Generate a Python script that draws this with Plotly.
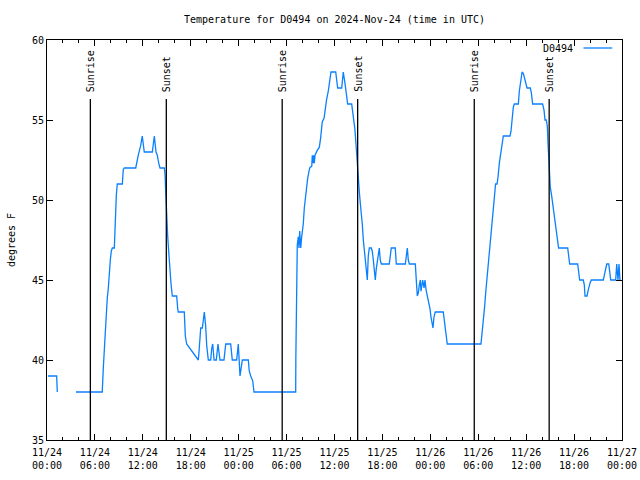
import pandas as pd
import plotly.graph_objects as go

# hours since 2024-11-24 00:00 UTC, temperature in F (None = data gap)
hours = [0.13, 1.21, 1.29, 2.0, 3.63, 6.92, 7.05, 7.17, 7.30, 7.43, 7.55, 7.68, 7.80, 7.93, 8.05, 8.18,
         8.43, 8.48, 8.55, 8.68, 8.80, 9.43, 9.55, 9.68, 11.11, 11.19, 11.31, 11.43, 11.56, 11.73,
         11.93, 12.18, 13.19, 13.31, 13.44, 13.65, 13.81, 13.99, 14.15, 14.69, 14.78, 14.86, 14.96,
         15.11, 15.28, 15.40, 15.53, 15.69, 16.24, 16.37, 16.44, 17.19, 17.32, 17.49, 18.95, 19.03,
         19.16, 19.25, 19.45, 19.70, 19.87, 20.00, 20.20, 20.50, 20.62, 20.75, 20.92, 21.20, 21.41,
         21.66, 22.16, 22.38, 23.00, 23.20, 23.75, 23.95, 24.17, 24.29, 24.46, 25.21, 25.33, 25.51,
         25.76, 25.92, 31.14, 31.16, 31.22, 31.34, 31.47, 31.55, 31.64, 31.77, 31.89, 32.09, 32.22,
         32.39, 32.52, 32.64, 32.81, 32.93, 33.15, 33.22, 33.30, 33.38, 33.47, 33.56, 33.84, 34.10,
         34.27, 34.47, 34.69, 34.81, 35.02, 35.22, 35.35, 35.56, 36.15, 36.27, 36.40, 36.90, 37.10,
         37.31, 37.53, 37.65, 38.15, 38.28, 38.44, 38.56, 38.69, 38.78, 38.94, 38.98, 39.11, 39.23,
         39.36, 39.48, 39.61, 39.73, 39.86, 39.98, 40.11, 40.23, 40.36, 40.61, 40.73, 40.86, 40.98,
         41.11, 41.23, 41.36, 41.48, 41.61, 41.73, 41.86, 42.86, 42.98, 43.11, 43.61, 43.74, 44.87,
         44.99, 45.12, 45.24, 45.37, 46.12, 46.21, 46.29, 46.37, 46.50, 46.62, 46.75, 46.83, 46.96,
         47.04, 47.21, 47.33, 47.46, 47.62, 47.80, 47.96, 48.08, 48.21, 48.33, 48.46, 48.62, 49.62,
         49.75, 49.87, 50.00, 50.12, 54.34, 54.43, 54.56, 54.68, 54.81, 54.93, 55.06, 55.18, 55.31,
         55.43, 55.60, 55.85, 56.05, 56.17, 56.35, 56.47, 56.64, 56.81, 56.98, 57.14, 57.27, 57.98,
         58.10, 58.23, 58.39, 58.52, 59.02, 59.14, 59.31, 59.49, 59.65, 59.77, 59.90, 60.02, 60.11,
         60.52, 60.65, 60.81, 62.06, 62.24, 62.36, 62.52, 62.65, 62.74, 62.81, 62.89, 63.02, 63.18,
         63.31, 63.43, 63.56, 63.68, 63.81, 63.93, 64.06, 65.20, 65.33, 65.45, 66.45, 66.58, 66.70,
         67.15, 67.28, 67.37, 67.62, 67.74, 67.87, 67.99, 68.16, 69.66, 69.79, 69.91, 70.09, 70.34,
         70.46, 70.59, 71.21, 71.34, 71.41, 71.50, 71.62, 71.75]
temps = [39, 39, 38, None, 38, 38, 39.5, 40.7, 42.3, 43.3, 43.9, 44.5, 45.5, 46.25, 46.8, 47,
         47, 47.7, 49.2, 50.3, 51, 51, 51.9, 52, 52, 52.3, 52.5, 52.8, 53, 53.4,
         54, 53, 53, 53.4, 54, 53, 52.8, 52.3, 52, 52, 51.6, 50.6, 49.3,
         47.75, 46.5, 45.5, 44.75, 44, 44, 43.2, 43, 43, 41.5, 41, 40, 40.5,
         41.5, 42, 42, 43, 42.1, 40.9, 40, 40, 40.7, 41, 40, 40, 41,
         40, 40, 41, 41, 40, 40, 41, 39, 39.5, 40, 40, 39.3, 39,
         38.7, 38, 38, 40.2, 44.8, 47.2, 47.7, 47, 48.06, 47, 47.7, 48.5, 49.5,
         50.3, 50.8, 51.35, 51.8, 52.04, 52.1, 52.8, 52.3, 52.8, 52.3, 52.8, 53.1, 53.3,
         53.9, 54.9, 55.1, 55.7, 56.3, 56.8, 57.3, 58, 58, 57.3, 57, 57, 58,
         57.3, 56.4, 56, 56, 55.5, 54.9, 54.4, 53.5, 52.7, 52, 51.5, 50.5, 49.8,
         49.3, 48.5, 47.5, 46.8, 46.25, 45.4, 45, 46.5, 47, 47, 46.8, 46.25, 45.7,
         45, 45.7, 46.25, 46.8, 47, 46.25, 46, 46, 46.5, 47, 47, 46, 46,
         46.7, 47, 46.25, 46, 46, 45.5, 44.6, 44, 44.2, 44.7, 45, 44.3, 44.7,
         45, 44.5, 45, 44.4, 44, 43.75, 43.2, 42.7, 42.3, 42, 42.7, 43, 43,
         42.4, 41.8, 41.4, 41, 41, 41.4, 42, 42.8, 43.4, 44.2, 44.9, 45.4, 46.25,
         47, 48, 49, 50.3, 51, 51, 51.4, 52.3, 52.9, 53.4, 54, 54, 54,
         54.3, 55.2, 55.8, 56, 56, 56.8, 57.3, 58, 57.9, 57.7, 57.4, 57.3, 57,
         57, 56.7, 56, 56, 55.6, 55, 55, 54.6, 53.5, 52.5, 51.5, 50.8, 50.3,
         49.8, 49.3, 48.75, 48.2, 47.7, 47.3, 47, 47, 46.25, 46, 46, 45.5, 45,
         45, 44.7, 44, 44, 44.3, 44.6, 44.8, 45, 45, 45.3, 45.6, 46, 46,
         45.6, 45, 45, 46, 45.5, 45, 46, 45]

sunrise_hours = [5.43, 29.45, 53.50]
sunset_hours = [14.94, 38.90, 62.88]

base = pd.Timestamp("2024-11-24 00:00")
times = [base + pd.Timedelta(hours=h) for h in hours]

FONT = "DejaVu Sans Mono"
FS = 10
fig = go.Figure()
fig.add_trace(go.Scatter(x=times, y=temps, mode="lines", name="D0494",
                         line=dict(color="#0a80ff", width=1.3), connectgaps=False,
                         showlegend=False, hoverinfo="skip"))

for lst, label in [(sunrise_hours, "Sunrise"), (sunset_hours, "Sunset")]:
    for h in lst:
        t = base + pd.Timedelta(hours=h)
        fig.add_shape(type="line", x0=t, x1=t, xref="x", yref="paper", y0=0, y1=0.8525,
                      line=dict(color="black", width=1.3))
        fig.add_annotation(x=t, xref="x", yref="paper", y=0.865, yanchor="bottom",
                           text=label, textangle=-90, showarrow=False,
                           font=dict(family=FONT, size=FS, color="black"))

# legend (gnuplot style: text then sample)
fig.add_annotation(x=0.918, y=0.98, xref="paper", yref="paper", xanchor="right", yanchor="middle",
                   text="D0494", showarrow=False, font=dict(family=FONT, size=FS, color="black"))
fig.add_shape(type="line", xref="paper", yref="paper", x0=0.933, x1=0.983, y0=0.98, y1=0.98,
              line=dict(color="#0a80ff", width=1.3))

fig.update_layout(
    width=640, height=480,
    margin=dict(l=47, r=18, t=40, b=40, autoexpand=False),
    paper_bgcolor="white", plot_bgcolor="white",
    font=dict(family=FONT, size=FS, color="black"),
    title=dict(text="Temperature for D0494 on 2024-Nov-24 (time in UTC)", x=0.5, xref="paper",
               xanchor="center", y=1 - 19 / 480, yanchor="middle", yref="container",
               font=dict(family=FONT, size=FS)),
)
fig.update_xaxes(
    range=[base, base + pd.Timedelta(hours=72)], automargin=False,
    tick0=base, dtick=6 * 3600 * 1000, tickformat="%m/%d<br>%H:%M",
    ticks="inside", ticklen=6, tickcolor="black", showgrid=False, zeroline=False,
    showline=True, linecolor="black", linewidth=1, mirror="ticks",
    minor=dict(dtick=2 * 3600 * 1000, ticks="inside", ticklen=3, tickcolor="black"),
    tickfont=dict(family=FONT, size=FS), ticklabelstandoff=3,
)
fig.update_yaxes(
    range=[35, 60], dtick=5, ticks="inside", ticklen=6, tickcolor="black", automargin=False,
    showgrid=False, zeroline=False, showline=True, linecolor="black", linewidth=1,
    mirror="ticks", title=dict(text="degrees F", font=dict(family=FONT, size=FS), standoff=14),
    tickfont=dict(family=FONT, size=FS),
)
fig.write_html("out.html", config={"displayModeBar": False, "staticPlot": True},
               post_script="document.body.style.margin='0';document.body.style.overflow='hidden';")
